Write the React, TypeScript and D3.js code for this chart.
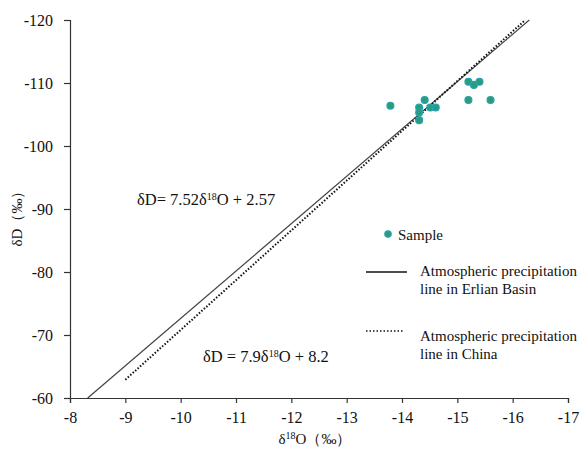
import { useRef, useEffect } from 'react';
import * as d3 from 'd3';

// sample points (δ18O, δD)
const sampleO = [-13.79, -14.31, -14.41, -14.31, -14.31, -14.51, -14.61, -15.2, -15.3, -15.4, -15.2, -15.6];
const sampleD = [-106.4, -106.1, -107.3, -105.3, -104.1, -106.1, -106.1, -110.2, -109.7, -110.2, -107.3, -107.3];

const xTicks = [-8, -9, -10, -11, -12, -13, -14, -15, -16, -17];
const yTicks = [-60, -70, -80, -90, -100, -110, -120];

// regression lines: slope, intercept, x span
const erlian = { slope: 7.52, intercept: 2.57, from: -8.32, to: -16.3 };
const china = { slope: 7.9, intercept: 8.2, from: -9, to: -16.23 };

export default function App() {
  const svgRef = useRef<SVGSVGElement>(null);

  useEffect(() => {
    const svg = d3.select(svgRef.current).html('');
    const font = '"Liberation Serif", "Times New Roman", serif';

    const x = d3.scaleLinear().domain([-8, -17]).range([70, 568]);
    const y = d3.scaleLinear().domain([-60, -120]).range([398, 20]);

    // Axes
    const xAxis = svg.append('g')
      .attr('transform', `translate(0,${y(-60)})`)
      .call(d3.axisBottom(x).tickValues(xTicks).tickSize(5).tickFormat(d => String(d)));
    const yAxis = svg.append('g')
      .attr('transform', `translate(${x(-8)},0)`)
      .call(d3.axisLeft(y).tickValues(yTicks).tickSize(6).tickFormat(d => String(d)));

    [xAxis, yAxis].forEach(g => {
      g.select('.domain').attr('stroke', '#333').attr('stroke-width', 1.2);
      g.selectAll('.tick line').attr('stroke', '#333').attr('stroke-width', 1.2);
      g.selectAll('.tick text')
        .attr('fill', '#111')
        .style('font-family', font)
        .style('font-size', '16px');
    });
    xAxis.selectAll('.tick text').attr('dy', '1.05em');
    yAxis.selectAll('.tick text').attr('x', -17).attr('dy', '0.35em');

    const drawLine = (p: typeof erlian) => {
      const pts: [number, number][] = [p.from, p.to].map(v => [v, p.slope * v + p.intercept]);
      return d3.line<[number, number]>().x(d => x(d[0])).y(d => y(d[1]))(pts);
    };

    svg.append('path')
      .attr('d', drawLine(erlian))
      .attr('fill', 'none')
      .attr('stroke', '#444')
      .attr('stroke-width', 1.2);

    svg.append('path')
      .attr('d', drawLine(china))
      .attr('fill', 'none')
      .attr('stroke', '#111')
      .attr('stroke-width', 2)
      .attr('stroke-dasharray', '1.5,1.8');

    // sample points
    svg.selectAll('.dot')
      .data(sampleO.map((o, i) => [o, sampleD[i]]))
      .enter()
      .append('circle')
      .attr('cx', d => x(d[0]))
      .attr('cy', d => y(d[1]))
      .attr('r', 3.4)
      .attr('fill', '#2b9d72')
      .attr('stroke', '#27a2b4')
      .attr('stroke-width', 1.3);

    // equations
    const eq1 = svg.append('text')
      .attr('x', 137).attr('y', 205)
      .style('font-family', font).style('font-size', '16.5px').attr('fill', '#111');
    eq1.append('tspan').text('δD= 7.52δ');
    eq1.append('tspan').text('18').attr('font-size', '10px').attr('dy', -5);
    eq1.append('tspan').text('O + 2.57').attr('dy', 5);

    const eq2 = svg.append('text')
      .attr('x', 203).attr('y', 362)
      .style('font-family', font).style('font-size', '16.5px').attr('fill', '#111');
    eq2.append('tspan').text('δD = 7.9δ');
    eq2.append('tspan').text('18').attr('font-size', '10px').attr('dy', -5);
    eq2.append('tspan').text('O + 8.2').attr('dy', 5);

    // legend
    svg.append('circle')
      .attr('cx', 388).attr('cy', 234).attr('r', 3.2)
      .attr('fill', '#2b9d72').attr('stroke', '#27a2b4').attr('stroke-width', 1.2);
    svg.append('text').attr('x', 398).attr('y', 240).text('Sample')
      .style('font-family', font).style('font-size', '15px').attr('fill', '#111');

    svg.append('line')
      .attr('x1', 366).attr('x2', 407).attr('y1', 272).attr('y2', 272)
      .attr('stroke', '#111').attr('stroke-width', 1.3);
    const l1 = svg.append('text').style('font-family', font).style('font-size', '15px').attr('fill', '#111');
    l1.append('tspan').attr('x', 420).attr('y', 276).text('Atmospheric  precipitation');
    l1.append('tspan').attr('x', 420).attr('y', 294).text('line in Erlian Basin');

    svg.append('line')
      .attr('x1', 366).attr('x2', 403).attr('y1', 331).attr('y2', 331)
      .attr('stroke', '#111').attr('stroke-width', 1.5).attr('stroke-dasharray', '1.5,2');
    const l2 = svg.append('text').style('font-family', font).style('font-size', '15px').attr('fill', '#111');
    l2.append('tspan').attr('x', 420).attr('y', 341).text('Atmospheric  precipitation');
    l2.append('tspan').attr('x', 420).attr('y', 359).text('line in China');

    // axis titles
    const xt = svg.append('text')
      .attr('x', 315).attr('y', 444).attr('text-anchor', 'middle')
      .style('font-family', font).style('font-size', '15px').attr('fill', '#111');
    xt.append('tspan').text('δ');
    xt.append('tspan').text('18').attr('font-size', '10px').attr('dy', -5);
    xt.append('tspan').text('O（‰）').attr('dy', 5);

    svg.append('text')
      .attr('transform', 'translate(22,215) rotate(-90)')
      .attr('text-anchor', 'middle')
      .style('font-family', font).style('font-size', '15px').attr('fill', '#111')
      .text('δD（‰）');
  }, []);

  return (
    <svg
      ref={svgRef}
      width={582}
      height={452}
      style={{ position: 'absolute', left: 0, top: 0, background: '#fff' }}
    />
  );
}
